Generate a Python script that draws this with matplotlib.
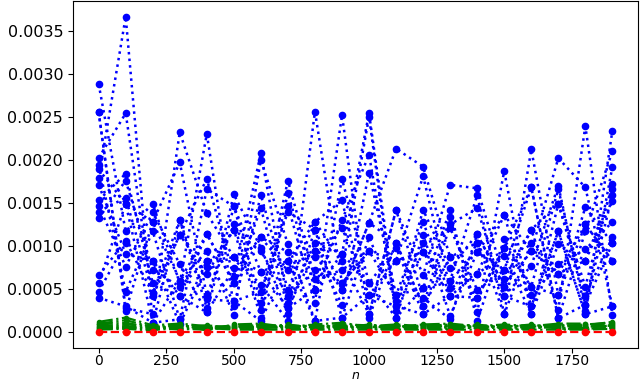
import numpy as np
import matplotlib
matplotlib.use("Agg")
import matplotlib.pyplot as plt

n_values = list(range(0, 2000, 100))

# blue series (units of 1e-4)
blue_series = [
    [28.8, 11.7, 14.9, 5.7, 23.0, 3.0, 15.9, 4.9, 12.8, 15.3, 2.1, 14.2, 6.6, 17.1, 16.7, 6.2, 11.9, 2.6, 23.9, 2.0],
    [25.6, 2.5, 12.8, 19.7, 4.3, 12.5, 2.6, 14.7, 3.4, 25.2, 1.7, 10.4, 3.0, 13.4, 2.3, 18.7, 2.1, 14.9, 5.3, 17.2],
    [25.5, 2.8, 2.1, 23.2, 13.8, 8.7, 5.5, 1.3, 25.6, 5.7, 9.4, 4.3, 12.8, 4.2, 10.4, 2.1, 21.2, 4.3, 14.5, 10.3],
    [20.2, 25.4, 4.2, 11.3, 17.8, 6.4, 20.8, 3.4, 10.4, 9.1, 25.4, 3.0, 14.2, 7.4, 11.4, 5.3, 9.4, 20.2, 16.8, 3.0],
    [19.4, 4.7, 11.7, 1.5, 16.6, 14.6, 3.4, 17.6, 6.2, 7.2, 25.0, 1.7, 11.3, 1.9, 9.3, 13.6, 3.0, 11.7, 2.1, 23.4],
    [18.9, 14.9, 1.1, 13.0, 2.8, 16.0, 9.8, 2.1, 11.9, 4.9, 12.7, 21.3, 19.2, 8.7, 4.0, 9.8, 16.8, 1.6, 11.7, 21.0],
    [17.9, 36.6, 1.1, 6.0, 9.4, 2.0, 20.0, 10.2, 1.3, 17.8, 5.7, 9.8, 2.1, 12.5, 14.4, 4.2, 7.7, 17.0, 2.5, 19.2],
    [17.1, 9.1, 8.3, 0.94, 7.6, 11.9, 1.7, 16.2, 4.9, 13.0, 20.6, 2.5, 9.3, 6.0, 15.9, 2.1, 10.4, 6.8, 12.5, 8.3],
    [15.3, 18.4, 5.7, 4.2, 11.4, 5.7, 14.4, 2.8, 9.4, 3.2, 18.5, 4.3, 5.1, 14.2, 1.3, 10.8, 5.3, 16.6, 3.2, 15.9],
    [14.7, 7.6, 13.9, 7.9, 2.3, 7.4, 11.0, 9.3, 8.7, 12.1, 4.3, 8.3, 18.1, 5.1, 6.8, 8.9, 2.1, 10.2, 8.3, 16.6],
    [14.0, 15.6, 4.5, 13.0, 3.8, 3.6, 4.7, 14.0, 11.9, 1.7, 11.0, 3.6, 10.3, 12.1, 4.9, 7.2, 4.3, 7.9, 9.6, 12.8],
    [13.2, 17.6, 7.2, 5.3, 8.3, 8.7, 7.0, 8.3, 12.8, 8.3, 2.1, 14.2, 4.0, 1.5, 11.4, 5.3, 11.9, 14.9, 4.2, 11.0],
    [6.6, 10.6, 4.5, 11.3, 6.8, 11.9, 9.4, 4.2, 7.2, 5.7, 9.4, 8.3, 9.3, 4.2, 6.8, 13.6, 9.4, 6.8, 8.3, 15.2],
    [5.7, 14.9, 12.8, 6.0, 11.4, 5.7, 11.0, 7.2, 9.4, 4.9, 12.7, 10.4, 3.0, 8.7, 10.4, 4.2, 3.0, 11.7, 2.1, 3.0],
    [4.7, 10.4, 8.3, 4.2, 2.3, 14.6, 7.0, 2.8, 4.9, 9.1, 5.7, 1.7, 5.1, 6.0, 9.3, 7.2, 16.8, 1.6, 3.2, 10.3],
    [4.0, 3.0, 1.1, 1.5, 8.3, 3.6, 1.3, 8.3, 1.3, 1.7, 4.3, 3.0, 2.1, 4.2, 4.0, 9.8, 5.3, 4.3, 12.5, 8.3],
]

# green series (units of 1e-4)
green_series = [
    [1.2, 1.7, 0.8, 1.0, 0.7, 0.6, 0.8, 0.7, 0.6, 0.9, 0.8, 0.6, 0.7, 0.8, 0.7, 0.6, 0.8, 0.7, 0.9, 1.1],
    [1.0, 1.4, 0.6, 0.8, 0.5, 0.8, 0.6, 0.9, 0.5, 0.7, 0.6, 0.8, 0.5, 0.6, 0.9, 0.5, 0.6, 0.9, 0.6, 0.9],
    [0.9, 1.1, 0.5, 0.6, 0.8, 0.5, 0.9, 0.5, 0.7, 0.5, 0.9, 0.5, 0.8, 0.5, 0.5, 0.8, 0.5, 0.6, 0.8, 1.2],
    [0.7, 0.9, 0.7, 0.5, 0.4, 0.7, 0.5, 0.6, 0.8, 0.6, 0.5, 0.7, 0.6, 0.7, 0.6, 0.7, 0.7, 0.5, 0.5, 0.8],
    [0.6, 0.7, 0.4, 0.7, 0.6, 0.4, 0.7, 0.4, 0.4, 0.8, 0.4, 0.4, 0.4, 0.4, 0.8, 0.4, 0.4, 0.8, 0.7, 0.6],
    [0.5, 0.6, 0.3, 0.4, 0.3, 0.6, 0.4, 0.8, 0.6, 0.4, 0.7, 0.9, 0.7, 0.9, 0.4, 0.6, 0.9, 0.4, 0.4, 0.5],
    [0.4, 0.5, 0.6, 0.3, 0.5, 0.3, 0.3, 0.3, 0.3, 0.3, 0.3, 0.3, 0.3, 0.3, 0.3, 0.3, 0.3, 0.3, 0.3, 0.4],
    [0.3, 0.4, 0.2, 0.9, 0.2, 0.9, 1.0, 0.6, 0.9, 1.1, 0.6, 0.6, 0.9, 1.0, 0.7, 0.9, 0.7, 1.0, 1.0, 0.7],
]

red_values = [0.0] * 20

fig = plt.figure(figsize=(6.4, 3.83), dpi=100)
ax = fig.add_axes([0.114, 0.0914, 0.883, 0.906])

for s in blue_series:
    ax.plot(n_values, np.array(s) * 1e-4, ':', color='blue', marker='o',
            markersize=4.5, linewidth=1.8)
for s in green_series:
    ax.plot(n_values, np.array(s) * 1e-4, '-.', color='green', marker='o',
            markersize=3, linewidth=1.6)
ax.plot(n_values, red_values, '--', color='red', marker='o', markersize=4.5, linewidth=1.6)

ax.set_xticks([0, 250, 500, 750, 1000, 1250, 1500, 1750])
ax.set_yticks(np.arange(0, 0.0036, 0.0005))
ax.yaxis.set_major_formatter(matplotlib.ticker.FormatStrFormatter('%.4f'))
ax.tick_params(axis='y', labelsize=11.5)
ax.tick_params(axis='x', labelsize=10, pad=1)
ax.set_xlabel('$n$', fontsize=9, labelpad=0.5)

fig.savefig('out.png', dpi=100)
